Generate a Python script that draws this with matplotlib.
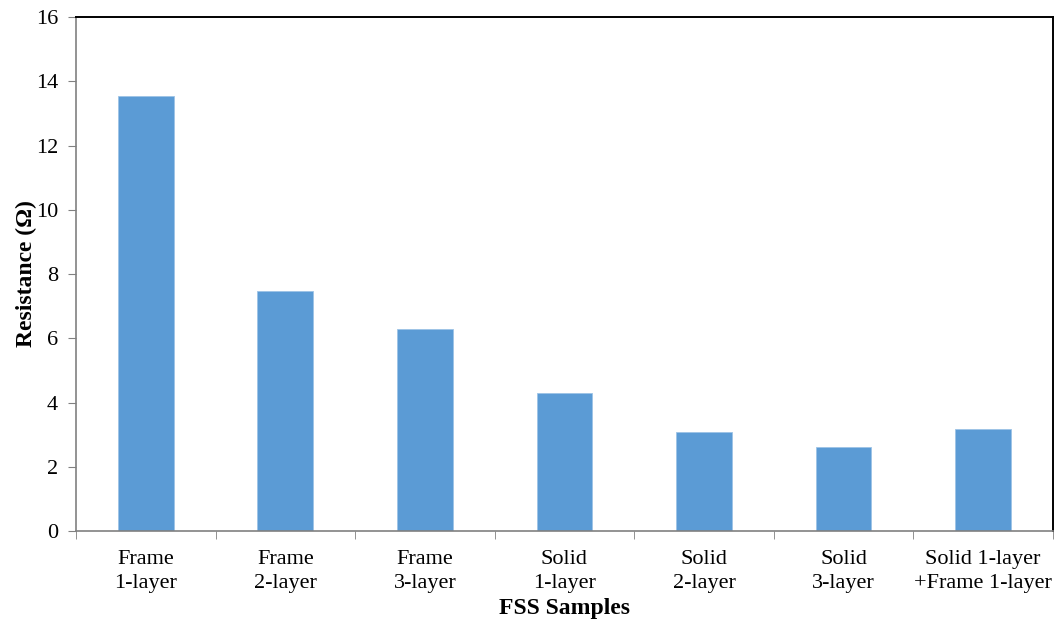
import matplotlib
matplotlib.use("Agg")
import matplotlib.pyplot as plt
import numpy as np

samples = ["Frame\n1-layer", "Frame\n2-layer", "Frame\n3-layer", "Solid\n1-layer",
           "Solid\n2-layer", "Solid\n3-layer", "Solid 1-layer\n+Frame 1-layer"]
resistance = [13.55, 7.48, 6.29, 4.30, 3.09, 2.62, 3.18]

plt.rcParams["font.family"] = ["Liberation Serif", "DejaVu Serif"]

fig = plt.figure(figsize=(10.55, 6.2), dpi=100)
ax = fig.add_axes([0.072, 0.1435, 0.926, 0.829])

x = np.arange(len(samples))
ax.bar(x, resistance, width=0.4, color="#5B9BD5", edgecolor="#9DC3E6", linewidth=0.6, zorder=2)

ax.set_xlim(-0.5, len(samples) - 0.5)
ax.set_ylim(0, 16)
ax.set_yticks(range(0, 17, 2))
ax.set_xticks(x)
ax.set_xticklabels(samples, fontsize=16, linespacing=1.3)
ax.set_xticks(np.arange(-0.5, len(samples), 1.0), minor=True)
ax.tick_params(axis="x", which="major", length=0, pad=14)
ax.tick_params(axis="x", which="minor", length=6, color="#808080", direction="out")
ax.tick_params(axis="y", labelsize=16, length=6, color="#808080", pad=7)

for side in ("left", "bottom"):
    ax.spines[side].set_color("#808080")
    ax.spines[side].set_linewidth(1.2)
for side in ("top", "right"):
    ax.spines[side].set_color("black")
    ax.spines[side].set_linewidth(1.4)

ax.set_ylabel("Resistance (Ω)", fontsize=17, fontweight="bold", labelpad=-1)
ax.set_xlabel("FSS Samples", fontsize=17, fontweight="bold", labelpad=4)

fig.savefig("out.png", dpi=100)
